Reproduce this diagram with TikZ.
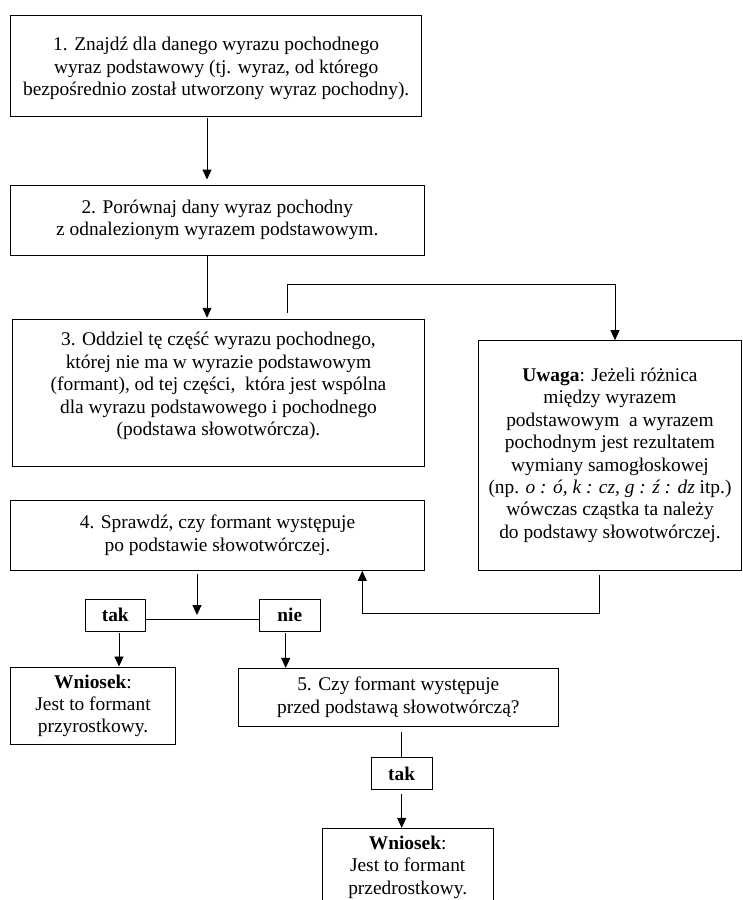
\documentclass[tikz,border=0pt]{standalone}
\usepackage{fontspec}
\setmainfont{Liberation Serif}
\usetikzlibrary{arrows.meta}
\newcommand\diagfont{\fontsize{19.4pt}{22.4pt}\selectfont}
\begin{document}
\begin{tikzpicture}[x=1pt,y=-1pt,
  box/.style={draw=black, line width=0.9pt, rectangle, inner sep=0pt, align=center, font=\diagfont},
  conn/.style={draw=black, line width=0.9pt},
  arr/.style={conn, -{Triangle[width=9pt,length=10pt]}}]
\fill[white] (0,0) rectangle (742,900);
\useasboundingbox (0,0) rectangle (742,900);

\node[box, minimum width=411pt, minimum height=101pt] (b1) at (216.2,65.5)
  {\parbox[c][101pt][c]{405pt}{\centering\vspace*{6pt}1. Znajdź dla danego wyrazu pochodnego\\wyraz podstawowy (tj. wyraz, od którego\\bezpośrednio został utworzony wyraz pochodny).}};
\node[box, minimum width=413.3pt, minimum height=70pt] (b2) at (217.3,220)
  {2. Porównaj dany wyraz pochodny\\z odnalezionym wyrazem podstawowym.};
\node[box, minimum width=411.6pt, minimum height=146.7pt] (b3) at (218.5,392.6)
  {\parbox[c][146.7pt][c]{405pt}{\centering 3. Oddziel tę część wyrazu pochodnego,\\której nie ma w wyrazie podstawowym\\(formant), od tej części,~ która jest wspólna\\dla wyrazu podstawowego i pochodnego\\(podstawa słowotwórcza).\par\vspace{13pt}}};
\node[box, minimum width=262.3pt, minimum height=229.3pt] (uw) at (610,455.3)
  {\textbf{Uwaga}: Jeżeli różnica\\między wyrazem\\podstawowym~ a wyrazem\\pochodnym jest rezultatem\\wymiany samogłoskowej\\(np. \textit{o : ó, k : cz, g : ź : dz} itp.)\\wówczas cząstka ta należy\\do podstawy słowotwórczej.};
\node[box, minimum width=413.6pt, minimum height=70.5pt] (b4) at (217.5,535.2)
  {4. Sprawdź, czy formant występuje\\po podstawie słowotwórczej.};
\node[box, minimum width=60.7pt, minimum height=32pt] (tak1) at (115.3,615) {\textbf{tak}};
\node[box, minimum width=61pt, minimum height=32pt] (nie) at (289.8,615) {\textbf{nie}};
\node[box, minimum width=164.6pt, minimum height=77.7pt] (w1) at (93,705.8)
  {\textbf{Wniosek}:\\Jest to formant\\przyrostkowy.};
\node[box, minimum width=319.3pt, minimum height=57.7pt] (b5) at (398.3,697.2)
  {5. Czy formant występuje\\przed podstawą słowotwórczą?};
\node[box, minimum width=60.7pt, minimum height=32pt] (tak2) at (401.7,773.7) {\textbf{tak}};
\node[box, minimum width=171.3pt, minimum height=77.4pt] (w2) at (407.7,867)
  {\textbf{Wniosek}:\\Jest to formant\\przedrostkowy.};

\coordinate (x207) at (207,0);
\coordinate (j1) at (287,284);
\coordinate (j2) at (615,284);
\coordinate (j3) at (599,613.3);
\coordinate (j4) at (362.3,613.3);
\coordinate (j5) at (197,619);
\coordinate (x119) at (119,0);
\coordinate (x286) at (285.7,0);

\draw[arr, shorten <=2pt, shorten >=5pt] (b1.south -| x207) -- (b2.north -| x207);
\draw[arr, shorten >=1pt] (b2.south -| x207) -- (b3.north -| x207);
\draw[arr, shorten <=6pt] (b3.north -| j1) -- (j1) -- (j2) -- (uw.north -| j2);
\draw[arr, shorten <=5pt] (uw.south -| j3) -- (j3) -- (j4) -- (b4.south -| j4);
\draw[arr, shorten <=3pt, shorten >=4pt] (b4.south -| j5) -- (j5);
\draw[conn] (tak1.east |- j5) -- (nie.west |- j5);
\draw[arr, shorten <=2pt] (tak1.south -| x119) -- (w1.north -| x119);
\draw[arr, shorten <=2pt] (nie.south -| x286) -- (b5.north -| x286);
\draw[conn, shorten <=5pt] (b5.south -| tak2) -- (tak2.north);
\draw[arr, shorten <=4pt] (tak2.south) -- (w2.north -| tak2);
\end{tikzpicture}
\end{document}
